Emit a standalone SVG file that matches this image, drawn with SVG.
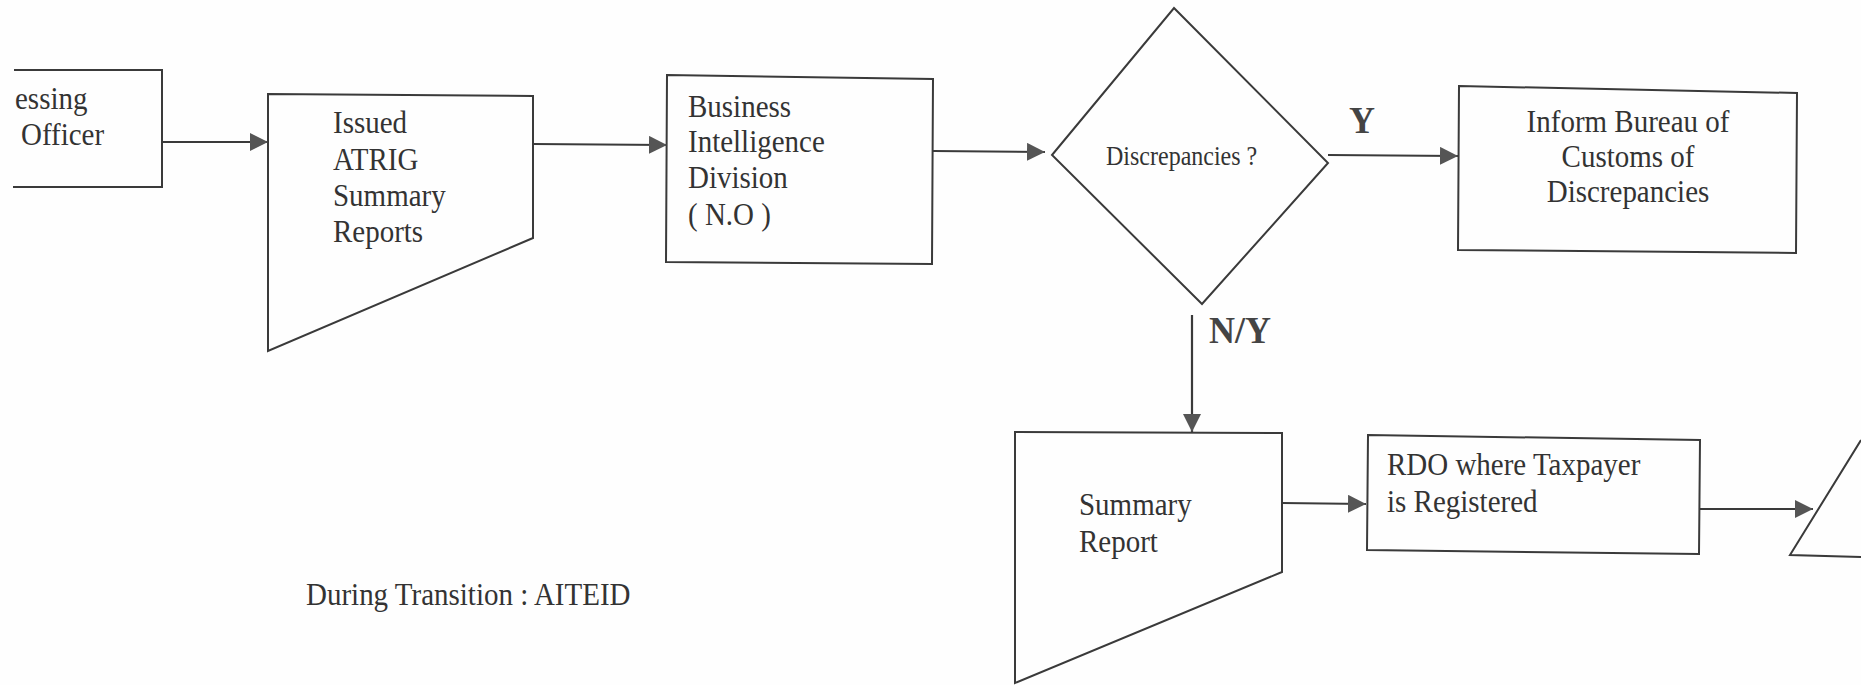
<svg xmlns="http://www.w3.org/2000/svg" width="1861" height="685" viewBox="0 0 1861 685">
<style>
.shape{fill:none;stroke:#3a3a3a;stroke-width:2}
.conn{fill:none;stroke:#3a3a3a;stroke-width:2.2}
.t{font-family:"Liberation Serif","Times New Roman",serif;font-size:29px;fill:#333}
.s{font-size:24px}
.b{font-family:"Liberation Serif","Times New Roman",serif;font-size:36px;font-weight:bold;fill:#444}
</style>
<defs>
<marker id="ah" markerUnits="userSpaceOnUse" markerWidth="18" markerHeight="18" refX="18" refY="9" orient="auto">
<path d="M0,0 L18,9 L0,18 Z" fill="#555"/>
</marker>
</defs>
<rect width="1861" height="685" fill="#fefefe"/>
<g id="officer">
<path class="shape" d="M14,70 L162,70 L162,187 L13,187"/>
<text class="t" transform="translate(15 109) scale(1 1.12)">essing</text>
<text class="t" transform="translate(21 145) scale(1 1.12)">Officer</text>
</g>
<g id="issued-reports">
<path class="shape" d="M268,94 L533,96 L533,238 L268,351 Z"/>
<text class="t" transform="translate(333 133) scale(1 1.12)">Issued</text>
<text class="t" transform="translate(333 170) scale(1 1.12)">ATRIG</text>
<text class="t" transform="translate(333 206) scale(1 1.12)">Summary</text>
<text class="t" transform="translate(333 242) scale(1 1.12)">Reports</text>
</g>
<g id="bi-division">
<path class="shape" d="M667,75 L933,79 L932,264 L666,262 Z"/>
<text class="t" transform="translate(688 117) scale(1 1.12)">Business</text>
<text class="t" transform="translate(688 152) scale(1 1.12)">Intelligence</text>
<text class="t" transform="translate(688 188) scale(1 1.12)">Division</text>
<text class="t" transform="translate(688 225) scale(1 1.12)">( N.O )</text>
</g>
<g id="discrepancies">
<path class="shape" d="M1174,8 L1328,163 L1202,304 L1052,155 Z"/>
<text class="t s" transform="translate(1106 165) scale(1 1.15)">Discrepancies ?</text>
</g>
<g id="inform-customs">
<path class="shape" d="M1459,86 L1797,93 L1796,253 L1458,250 Z"/>
<text class="t" text-anchor="middle" transform="translate(1628 132) scale(1 1.12)">Inform Bureau of</text>
<text class="t" text-anchor="middle" transform="translate(1628 167) scale(1 1.12)">Customs of</text>
<text class="t" text-anchor="middle" transform="translate(1628 202) scale(1 1.12)">Discrepancies</text>
</g>
<g id="summary-report">
<path class="shape" d="M1015,432 L1282,433 L1282,572 L1015,683 Z"/>
<text class="t" transform="translate(1079 515) scale(1 1.12)">Summary</text>
<text class="t" transform="translate(1079 552) scale(1 1.12)">Report</text>
</g>
<g id="rdo">
<path class="shape" d="M1368,435 L1700,440 L1699,554 L1367,550 Z"/>
<text class="t" transform="translate(1387 475) scale(1 1.12)">RDO where Taxpayer</text>
<text class="t" transform="translate(1387 512) scale(1 1.12)">is Registered</text>
</g>
<g id="next-partial">
<path class="shape" d="M1861,440 L1790,555 L1861,557"/>
</g>
<g id="connectors">
<line class="conn" x1="162" y1="142" x2="268" y2="142" marker-end="url(#ah)"/>
<line class="conn" x1="533" y1="144" x2="667" y2="145" marker-end="url(#ah)"/>
<line class="conn" x1="933" y1="151" x2="1045" y2="152" marker-end="url(#ah)"/>
<line class="conn" x1="1328" y1="155" x2="1458" y2="156" marker-end="url(#ah)"/>
<line class="conn" x1="1192" y1="315" x2="1192" y2="432" marker-end="url(#ah)"/>
<line class="conn" x1="1282" y1="503" x2="1366" y2="504" marker-end="url(#ah)"/>
<line class="conn" x1="1700" y1="509" x2="1813" y2="509" marker-end="url(#ah)"/>
<text class="b" transform="translate(1349 133) scale(1 1.05)">Y</text>
<text class="b" transform="translate(1209 343) scale(1 1.05)">N/Y</text>
</g>
<text class="t" font-size="29.2" transform="translate(306 605) scale(1 1.1)">During Transition : AITEID</text>
</svg>
